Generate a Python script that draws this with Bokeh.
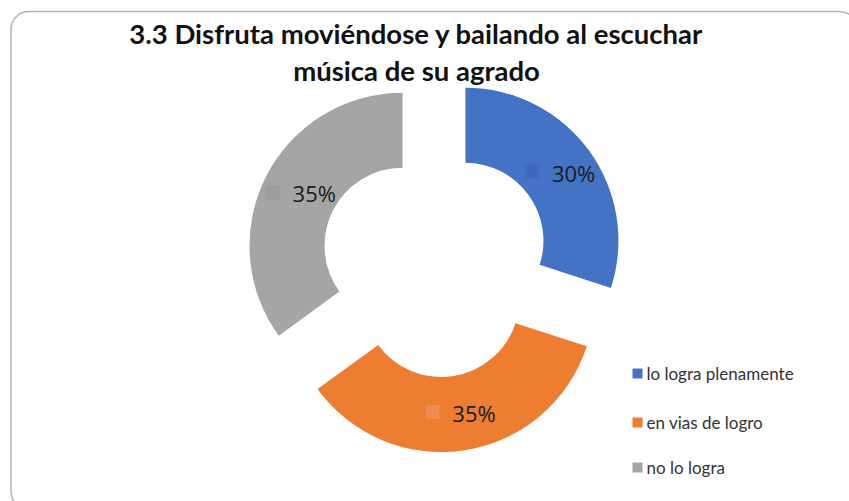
import numpy as np
from bokeh.plotting import figure
from bokeh.models import Range1d
from bokeh.core.properties import value
from bokeh.embed import file_html
from bokeh.resources import INLINE

# ---- data ----
title_lines = ["3.3 Disfruta moviéndose y bailando al escuchar", "música de su agrado"]
categories = ["lo logra plenamente", "en vias de logro", "no lo logra"]
percents = [30, 35, 35]
labels = ["30%", "35%", "35%"]
colors = ["#4472C4", "#ED7D31", "#A5A5A5"]
marker_colors = ["#3f68bf", "#f08b4e", "#9d9d9d"]

# ---- layout (page pixel coords; data y = 501 - page y) ----
W, H = 849, 501
OX, OY = 0, 0  # page offset of the figure
p = figure(width=W, height=H, x_range=Range1d(OX, OX + W),
           y_range=Range1d(501 - OY - H, 501 - OY),
           output_backend="svg", toolbar_location=None, min_border=0)
p.axis.visible = False
p.grid.visible = False
p.outline_line_color = None
p.background_fill_color = "white"
p.border_fill_color = "white"

def py(y):
    return 501 - y

# chart border
p.quad(left=10.5, right=857, top=py(11), bottom=py(509), border_radius=18,
       fill_color=None, line_color="#b4b4b4", line_width=1.5)

# donut geometry
CX, CY = 435, py(262)
R_OUT, R_IN, EXPL = 153, 78, 37
frac = np.array(percents, dtype=float) / sum(percents)
cum = np.concatenate([[0.0], np.cumsum(frac)])
start = np.pi / 2 - cum[:-1] * 2 * np.pi
end = np.pi / 2 - cum[1:] * 2 * np.pi
mid = (start + end) / 2
sx = CX + EXPL * np.cos(mid)
sy = CY + EXPL * np.sin(mid)

p.annular_wedge(x=sx, y=sy, inner_radius=R_IN, outer_radius=R_OUT,
                start_angle=start, end_angle=end, direction="clock",
                fill_color=colors, line_color=None)

# data labels
rm = (R_OUT + R_IN) / 2
lx = sx + rm * np.cos(mid)
ly = sy + rm * np.sin(mid)
p.scatter(x=lx - 27, y=ly + 1, marker="square", size=14, fill_color=marker_colors,
          line_color=None)
p.text(x=lx - 7, y=ly, text=labels, text_align="left", text_baseline="middle",
       text_font=value("Open Sans"), text_font_size="22px", text_color="#1a1a1a")

# title
p.text(x=[416, 416], y=[py(33), py(70)], text=title_lines, text_align="center",
       text_baseline="middle", text_font=value("Lato"), text_font_style="bold",
       text_font_size="27.5px", text_color="#111111")

# legend
leg_y = [py(373), py(422), py(467)]
p.scatter(x=[637] * 3, y=leg_y, marker="square", size=10, fill_color=colors,
          line_color=None)
p.text(x=[646] * 3, y=leg_y, text=categories, text_align="left", text_baseline="middle",
       text_font=value("Lato"), text_font_size="17px", text_color="#333333")

open("out.html", "w").write(file_html(p, INLINE))
